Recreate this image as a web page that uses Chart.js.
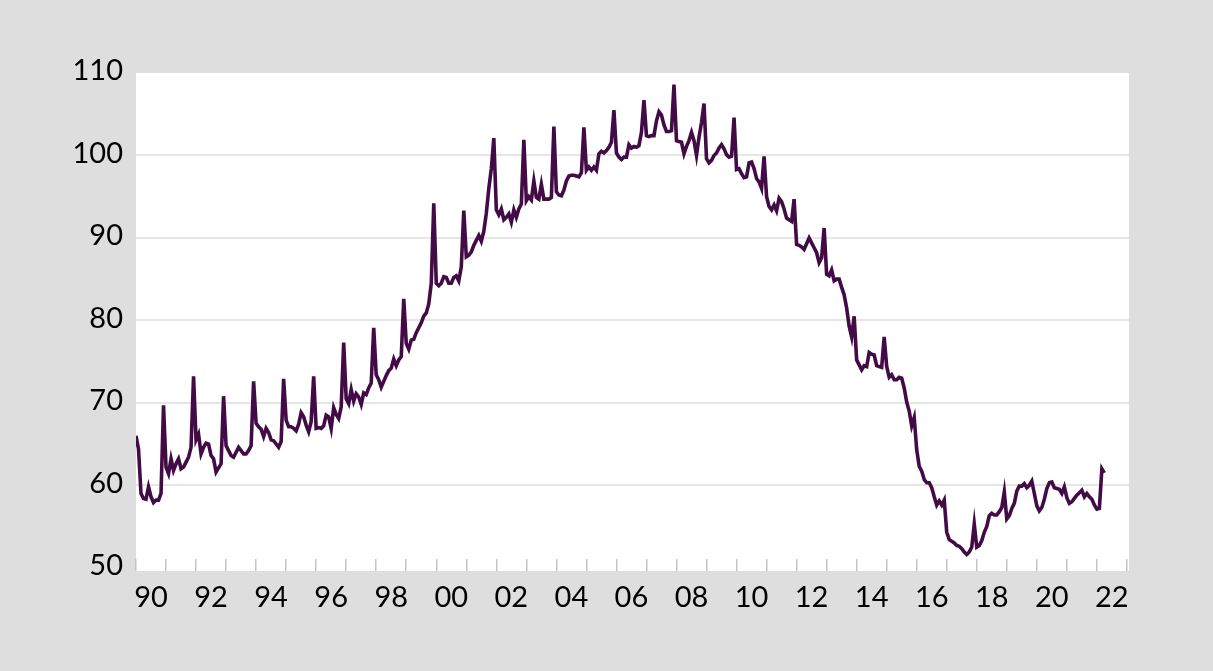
<!DOCTYPE html>
<html>
<head>
<meta charset="utf-8">
<script src="https://cdn.jsdelivr.net/npm/chart.js@4.4.1/dist/chart.umd.min.js"></script>
<style>
  html, body { margin: 0; padding: 0; background: #dedede; }
  #wrap { width: 1213px; height: 671px; }
</style>
</head>
<body>
<div id="wrap"><canvas id="chart"></canvas></div>
<script>
// Monthly index, Jan 1990 .. Apr 2022
var startYear = 1990;

var idx1990s = [
    66.0, 64.4, 59.0, 58.4, 58.3, 59.8, 58.6, 57.9, 58.2, 58.2, 59.0, 69.7,
    62.2, 61.4, 63.2, 61.8, 62.6, 63.2, 62.0, 62.2, 62.8, 63.4, 64.6, 73.2,
    65.5, 66.2, 63.8, 64.6, 65.1, 65.0, 63.6, 63.2, 61.6, 62.1, 62.6, 70.8,
    64.8, 64.2, 63.6, 63.4, 64.0, 64.6, 64.2, 63.8, 63.8, 64.2, 64.8, 72.6,
    67.5, 67.1, 66.8, 65.9, 66.9, 66.4, 65.5, 65.4, 65.0, 64.6, 65.3, 72.9,
    67.9, 67.1, 67.1, 66.9, 66.6, 67.4, 68.8, 68.3, 67.3, 66.5, 67.7, 73.2,
    66.9, 67.0, 66.9, 67.2, 68.5, 68.3, 66.9, 69.4, 68.6, 68.1, 69.5, 77.3,
    70.5, 69.9, 71.6, 70.2, 71.1, 70.7, 69.8, 71.2, 71.0, 71.8, 72.4, 79.1,
    73.4, 72.8, 71.9, 72.6, 73.3, 73.9, 74.2, 75.3, 74.5, 75.2, 75.6, 82.6,
    77.2, 76.5, 77.6, 77.7, 78.5, 79.1, 79.7, 80.5, 80.9, 82.0, 84.5, 94.2
];

var idx2000s = [
    84.5, 84.2, 84.5, 85.3, 85.2, 84.5, 84.5, 85.2, 85.4, 84.8, 86.5, 93.3,
    87.7, 87.9, 88.3, 89.1, 89.7, 90.3, 89.6, 90.8, 93.0, 96.0, 98.4, 102.1,
    93.4, 92.8, 93.5, 92.2, 92.5, 92.9, 91.9, 93.4, 92.5, 93.5, 94.1, 101.9,
    94.5, 95.0, 94.6, 96.9, 94.9, 94.7, 96.5, 94.7, 94.7, 94.7, 94.9, 103.5,
    95.6, 95.2, 95.1, 95.8, 96.9, 97.5, 97.6, 97.6, 97.5, 97.4, 97.9, 103.4,
    98.2, 98.6, 98.2, 98.6, 98.2, 100.2, 100.5, 100.3, 100.6, 101.0, 101.6, 105.5,
    100.3, 99.8, 99.5, 99.8, 99.8, 101.3, 100.9, 101.1, 101.0, 101.2, 102.8, 106.7,
    102.4, 102.3, 102.4, 102.4, 104.2, 105.3, 104.9, 103.7, 102.9, 102.9, 103.0, 108.6,
    101.8, 101.7, 101.6, 100.2, 101.1, 101.8, 102.8, 101.8, 100.0, 102.2, 104.0, 106.3,
    99.6, 99.1, 99.4, 100.0, 100.3, 100.9, 101.3, 100.8, 100.1, 99.8, 99.9, 104.6
];

var idx2010s = [
    98.3, 98.4, 97.8, 97.3, 97.4, 99.1, 99.2, 98.4, 97.2, 96.8, 96.0, 99.9,
    95.0, 93.8, 93.4, 94.0, 93.3, 94.8, 94.4, 93.5, 92.4, 92.2, 92.0, 94.7,
    89.2, 89.1, 88.9, 88.6, 89.3, 90.0, 89.4, 88.8, 88.2, 87.0, 87.6, 91.2,
    85.6, 85.4, 86.1, 84.8, 85.0, 85.0, 84.0, 83.1, 81.5, 79.3, 78.0, 80.5,
    75.2, 74.6, 74.0, 74.5, 74.4, 76.1, 75.9, 75.8, 74.5, 74.4, 74.3, 78.0,
    74.4, 73.1, 73.4, 72.8, 72.8, 73.1, 73.0, 71.8, 70.1, 69.0, 67.2, 68.2,
    64.3, 62.3, 61.7, 60.7, 60.3, 60.3, 59.7, 58.6, 57.6, 58.1, 57.6, 58.2,
    54.3, 53.4, 53.2, 53.0, 52.7, 52.6, 52.3, 51.9, 51.6, 51.9, 52.5, 55.3,
    52.5, 52.7, 53.3, 54.3, 55.0, 56.3, 56.6, 56.4, 56.4, 56.8, 57.3, 59.2,
    55.9, 56.3, 57.2, 57.8, 59.3, 59.9, 59.9, 60.2, 59.7, 60.0, 60.5, 59.0
];

var idx2020s = [
    57.5, 56.9, 57.3, 58.3, 59.6, 60.3, 60.4, 59.7, 59.6, 59.5, 59.0, 59.8,
    58.5, 57.8, 58.0, 58.4, 58.8, 59.1, 59.4, 58.6, 59.0, 58.6, 58.3, 57.6,
    57.1, 57.2, 62.0, 61.5
];

var yTicks = [50, 60, 70, 80, 90, 100, 110];
var xTickYears = [1990, 1991, 1992, 1993, 1994, 1995, 1996, 1997, 1998, 1999,
    2000, 2001, 2002, 2003, 2004, 2005, 2006, 2007, 2008, 2009,
    2010, 2011, 2012, 2013, 2014, 2015, 2016, 2017, 2018, 2019,
    2020, 2021, 2022, 2023];
var xLabelYears = [1990, 1992, 1994, 1996, 1998, 2000, 2002, 2004, 2006, 2008,
    2010, 2012, 2014, 2016, 2018, 2020, 2022];

var series = idx1990s.concat(idx2000s, idx2010s, idx2020s);
var points = series.map(function (v, i) { return { x: startYear + i / 12, y: v }; });

var TICK_FONT = { family: 'Lato', size: 29 };

// gray page, white plot area
var plotBackground = {
    id: 'plotBackground',
    beforeDraw: function (chart) {
        var a = chart.chartArea, ctx = chart.ctx;
        ctx.save();
        ctx.fillStyle = '#dedede';
        ctx.fillRect(0, 0, chart.width, chart.height);
        ctx.fillStyle = '#ffffff';
        ctx.fillRect(a.left, a.top, a.right - a.left, a.bottom - a.top);
        ctx.restore();
    }
};

new Chart(document.getElementById('chart').getContext('2d'), {
    type: 'line',
    data: {
        datasets: [{
            data: points,
            borderColor: '#430b46',
            borderWidth: 3.6,
            pointRadius: 0,
            tension: 0,
            fill: false
        }]
    },
    options: {
        responsive: true,
        maintainAspectRatio: false,
        animation: false,
        devicePixelRatio: 1,
        layout: { padding: { top: 73, right: 84, bottom: 0, left: 0 } },
        plugins: { legend: { display: false }, tooltip: { enabled: false } },
        scales: {
            x: {
                type: 'linear',
                min: 1990,
                max: 2023.07,
                afterBuildTicks: function (scale) {
                    scale.ticks = xTickYears.map(function (v) { return { value: v }; });
                },
                afterFit: function (scale) { scale.height = 100; },
                border: { display: false },
                grid: {
                    drawOnChartArea: false,
                    drawTicks: true,
                    tickLength: -12,
                    color: '#c4c4c4',
                    lineWidth: 1.5
                },
                ticks: {
                    autoSkip: false,
                    maxRotation: 0,
                    labelOffset: 15,
                    padding: 21,
                    color: '#000',
                    font: TICK_FONT,
                    callback: function (v) {
                        return xLabelYears.indexOf(v) >= 0 ? String(v).slice(2) : '';
                    }
                }
            },
            y: {
                min: 49.6,
                max: 110,
                afterBuildTicks: function (scale) {
                    scale.ticks = yTicks.map(function (v) { return { value: v }; });
                },
                afterFit: function (scale) { scale.width = 136; },
                border: { display: false },
                grid: {
                    drawTicks: false,
                    lineWidth: 2,
                    color: function (ctx) {
                        var v = ctx.tick ? ctx.tick.value : null;
                        return (v === 50 || v === 110) ? 'rgba(0,0,0,0)' : '#e6e6e6';
                    }
                },
                ticks: {
                    padding: 13,
                    labelOffset: -2,
                    color: '#000',
                    font: TICK_FONT
                }
            }
        }
    },
    plugins: [plotBackground]
});
</script>
</body>
</html>
